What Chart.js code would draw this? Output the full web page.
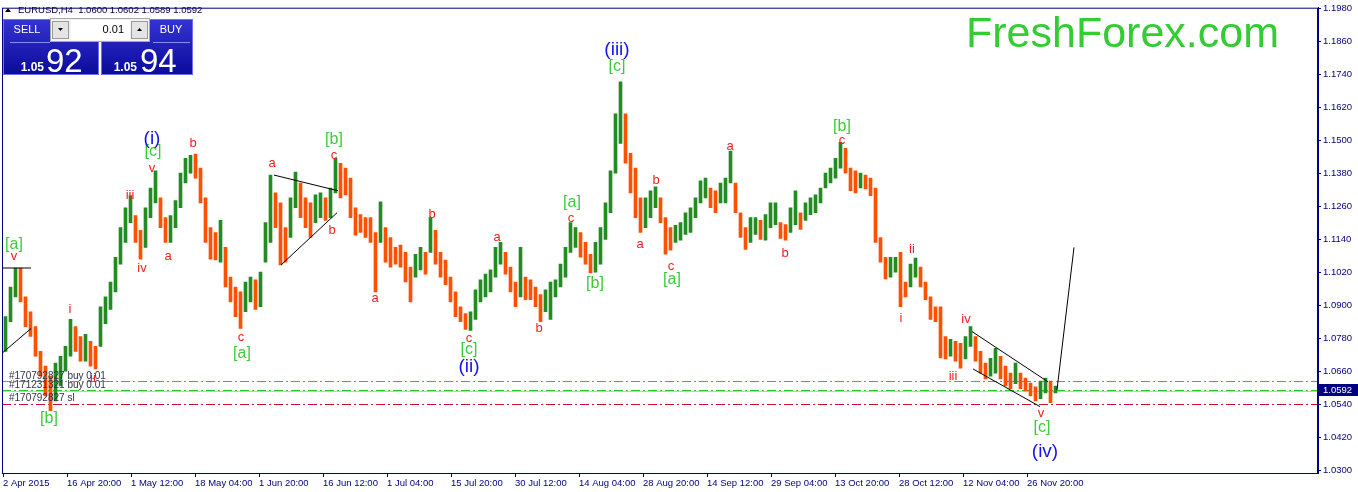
<!DOCTYPE html>
<html>
<head>
<meta charset="utf-8">
<script src="https://cdn.jsdelivr.net/npm/chart.js@4.4.1/dist/chart.umd.min.js"></script>
<style>
  html, body { margin: 0; padding: 0; background: #fff; overflow: hidden; }
  #wrap { width: 1358px; height: 492px; }
</style>
</head>
<body>
<div id="wrap"><canvas id="chart" width="1358" height="492"></canvas></div>
<script>
// EURUSD H4, 2 Apr - 3 Dec 2015, one slot = 5 H4 bars (high / low of the slot)
const highs = [
  1.0860, 1.0968, 1.1037, 1.1037, 1.0932, 1.0878, 1.0824, 1.0734, 1.0680, 1.0644,
  1.0691, 1.0716, 1.0752, 1.0850, 1.0824, 1.0788, 1.0796, 1.0770, 1.0752, 1.0896,
  1.0932, 1.0986, 1.1076, 1.1184, 1.1256, 1.1300, 1.1228, 1.1174, 1.1256, 1.1328,
  1.1390, 1.1292, 1.1220, 1.1228, 1.1282, 1.1382, 1.1436, 1.1447, 1.1451, 1.1400,
  1.1292, 1.1184, 1.1166, 1.1210, 1.1112, 1.1004, 1.0968, 1.0950, 1.0986, 1.1004,
  1.0994, 1.1022, 1.1202, 1.1375, 1.1310, 1.1274, 1.1184, 1.1292, 1.1386, 1.1346,
  1.1292, 1.1274, 1.1303, 1.1310, 1.1292, 1.1328, 1.1436, 1.1418, 1.1400, 1.1364,
  1.1256, 1.1231, 1.1220, 1.1220, 1.1166, 1.1278, 1.1184, 1.1148, 1.1112, 1.1120,
  1.1094, 1.1040, 1.1087, 1.1112, 1.1094, 1.1220, 1.1174, 1.1094, 1.1066, 1.1004,
  1.0950, 1.0896, 1.0871, 1.0878, 1.0958, 1.0994, 1.1015, 1.1030, 1.1112, 1.1130,
  1.1094, 1.1040, 1.0986, 1.1112, 1.1004, 1.0994, 1.0968, 1.0940, 1.0958, 1.0986,
  1.0994, 1.1051, 1.1112, 1.1202, 1.1184, 1.1166, 1.1130, 1.1087, 1.1130, 1.1184,
  1.1274, 1.1390, 1.1598, 1.1714, 1.1598, 1.1454, 1.1400, 1.1292, 1.1292, 1.1318,
  1.1332, 1.1292, 1.1220, 1.1184, 1.1192, 1.1202, 1.1238, 1.1256, 1.1292, 1.1354,
  1.1364, 1.1328, 1.1318, 1.1346, 1.1364, 1.1462, 1.1346, 1.1238, 1.1184, 1.1220,
  1.1220, 1.1210, 1.1231, 1.1274, 1.1274, 1.1202, 1.1195, 1.1256, 1.1318, 1.1238,
  1.1274, 1.1292, 1.1303, 1.1328, 1.1382, 1.1400, 1.1436, 1.1494, 1.1472, 1.1400,
  1.1390, 1.1382, 1.1375, 1.1364, 1.1328, 1.1148, 1.1076, 1.1076, 1.1076, 1.1094,
  1.0986, 1.1051, 1.1073, 1.1040, 1.0986, 1.0932, 1.0896, 1.0896, 1.0788, 1.0778,
  1.0770, 1.0763, 1.0788, 1.0824, 1.0788, 1.0734, 1.0691, 1.0709, 1.0745, 1.0716,
  1.0680, 1.0655, 1.0691, 1.0655, 1.0637, 1.0619, 1.0605, 1.0626, 1.0637, 1.0626,
  1.0608
];
const lows = [
  1.0734, 1.0842, 1.0932, 1.0914, 1.0824, 1.0788, 1.0716, 1.0644, 1.0572, 1.0518,
  1.0554, 1.0608, 1.0662, 1.0716, 1.0734, 1.0698, 1.0698, 1.0680, 1.0670, 1.0752,
  1.0835, 1.0886, 1.0950, 1.1051, 1.1130, 1.1202, 1.1130, 1.1069, 1.1112, 1.1220,
  1.1274, 1.1184, 1.1130, 1.1130, 1.1184, 1.1256, 1.1346, 1.1382, 1.1364, 1.1274,
  1.1130, 1.1069, 1.1066, 1.1058, 1.0968, 1.0914, 1.0860, 1.0817, 1.0878, 1.0914,
  1.0886, 1.0896, 1.1058, 1.1130, 1.1184, 1.1048, 1.1058, 1.1148, 1.1256, 1.1220,
  1.1184, 1.1148, 1.1202, 1.1220, 1.1210, 1.1220, 1.1310, 1.1292, 1.1303, 1.1220,
  1.1156, 1.1166, 1.1148, 1.1130, 1.0950, 1.1130, 1.1058, 1.1040, 1.1051, 1.1040,
  1.0986, 1.0914, 1.1004, 1.1030, 1.1015, 1.1094, 1.1051, 1.1004, 1.0976, 1.0914,
  1.0860, 1.0842, 1.0814, 1.0810, 1.0850, 1.0914, 1.0932, 1.0950, 1.1004, 1.1051,
  1.1015, 1.0950, 1.0896, 1.0932, 1.0922, 1.0922, 1.0896, 1.0842, 1.0878, 1.0850,
  1.0932, 1.0968, 1.1004, 1.1094, 1.1112, 1.1076, 1.1051, 1.1019, 1.1022, 1.1051,
  1.1141, 1.1238, 1.1382, 1.1490, 1.1418, 1.1310, 1.1220, 1.1166, 1.1184, 1.1220,
  1.1256, 1.1202, 1.1087, 1.1102, 1.1130, 1.1138, 1.1159, 1.1166, 1.1220, 1.1274,
  1.1292, 1.1256, 1.1238, 1.1274, 1.1274, 1.1346, 1.1238, 1.1148, 1.1105, 1.1130,
  1.1159, 1.1141, 1.1138, 1.1184, 1.1195, 1.1145, 1.1138, 1.1166, 1.1195, 1.1177,
  1.1210, 1.1231, 1.1238, 1.1274, 1.1328, 1.1346, 1.1364, 1.1400, 1.1382, 1.1318,
  1.1310, 1.1328, 1.1325, 1.1300, 1.1130, 1.1058, 1.0997, 1.1004, 1.1022, 1.0896,
  1.0932, 1.0968, 1.1004, 1.0968, 1.0922, 1.0850, 1.0842, 1.0710, 1.0706, 1.0716,
  1.0698, 1.0673, 1.0706, 1.0752, 1.0698, 1.0655, 1.0634, 1.0644, 1.0655, 1.0634,
  1.0608, 1.0598, 1.0616, 1.0598, 1.0590, 1.0572, 1.0554, 1.0562, 1.0583, 1.0547,
  1.0583
];

// time axis: bar number of each label
const tickBars = [1, 65, 129, 193, 257, 321, 385, 449, 513, 577, 641, 705, 769, 833, 897, 961, 1025];
const tickLabels = ['2 Apr 2015', '16 Apr 20:00', '1 May 12:00', '18 May 04:00', '1 Jun 20:00',
  '16 Jun 12:00', '1 Jul 04:00', '15 Jul 20:00', '30 Jul 12:00', '14 Aug 04:00', '28 Aug 20:00',
  '14 Sep 12:00', '29 Sep 04:00', '13 Oct 20:00', '28 Oct 12:00', '12 Nov 04:00', '26 Nov 20:00'];
const priceTicks = [1.0300, 1.0420, 1.0540, 1.0660, 1.0780, 1.0900, 1.1020, 1.1140,
  1.1260, 1.1380, 1.1500, 1.1620, 1.1740, 1.1860, 1.1980];

// wave counts: [text, bar, price]
const redLabels = [
  ['v', 12, 1.1080], ['i', 68, 1.0886], ['ii', 91, 1.0637], ['iii', 128, 1.1300], ['iv', 140, 1.1037],
  ['v', 150, 1.1400], ['a', 166, 1.1080], ['b', 191, 1.1490], ['c', 239, 1.0785], ['a', 270, 1.1418],
  ['c', 332, 1.1447], ['b', 330, 1.1174], ['a', 373, 1.0925], ['b', 430, 1.1231], ['c', 467, 1.0781],
  ['a', 495, 1.1148], ['b', 537, 1.0817], ['c', 569, 1.1217], ['a', 638, 1.1123], ['b', 654, 1.1357],
  ['c', 669, 1.1044], ['a', 728, 1.1480], ['b', 783, 1.1091], ['c', 840, 1.1501], ['i', 899, 1.0853],
  ['ii', 910, 1.1105], ['iii', 951, 1.0641], ['iv', 964, 1.0850], ['v', 1039, 1.0508]
];
const greenLabels = [
  ['[a]', 12, 1.1123], ['[b]', 47, 1.0490], ['[c]', 151, 1.1462], ['[a]', 240, 1.0727],
  ['[b]', 332, 1.1505], ['[c]', 467, 1.0742], ['[a]', 570, 1.1274], ['[b]', 593, 1.0979],
  ['[c]', 615, 1.1768], ['[a]', 670, 1.0994], ['[b]', 840, 1.1552], ['[c]', 1040, 1.0457]
];
const blueLabels = [['(i)', 150, 1.1508], ['(ii)', 467, 1.0677], ['(iii)', 615, 1.1832], ['(iv)', 1043, 1.0367]];

// trend lines: [bar1, price1, bar2, price2]
const trendLines = [
  [0, 1.1037, 29, 1.1037], [0, 1.0727, 29, 1.0817],
  [272, 1.1375, 336, 1.1318], [279, 1.1048, 335, 1.1238],
  [970, 1.0806, 1046, 1.0623], [971, 1.0670, 1038, 1.0533],
  [1055, 1.0594, 1072, 1.1112]
];
const buyLevels = [1.0626, 1.0594];
const stopLevel = 1.0543;
const bidPrice = 1.0592;
const orderTexts = [['#170792827 buy 0.01', 7, 1.0644], ['#171231321 buy 0.01', 7, 1.0612], ['#170792827 sl', 7, 1.0565]];

const SLOT = 5, FIRST_BAR = 1;
const UP = '#228b22', DOWN = '#ff5000', NAVY = '#000080';
const FONT = '"Liberation Sans", Arial, sans-serif';

const bars = highs.map((h, i) => ({ x: FIRST_BAR + SLOT * i + SLOT / 2, y: [lows[i], h] }));
const barColors = highs.map((h, i) => {
  if (i === 0) return UP;
  const mid = (h + lows[i]) / 2, prev = (highs[i - 1] + lows[i - 1]) / 2;
  return mid >= prev ? UP : DOWN;
});

function drawPanel(ctx) {
  ctx.save();
  ctx.fillStyle = '#000';
  ctx.beginPath(); ctx.moveTo(5, 12); ctx.lineTo(11, 12); ctx.lineTo(8, 8); ctx.closePath(); ctx.fill();
  ctx.font = '9.5px ' + FONT; ctx.textBaseline = 'middle'; ctx.textAlign = 'left';
  ctx.fillStyle = '#000040';
  ctx.fillText('EURUSD,H4  1.0600 1.0602 1.0589 1.0592', 18, 10);

  const g = ctx.createLinearGradient(0, 19, 0, 75);
  g.addColorStop(0, '#3434d4'); g.addColorStop(1, '#0a0a9a');
  [[3, 19, 96, 56], [101, 19, 92, 56]].forEach(r => {
    ctx.fillStyle = g; ctx.fillRect(r[0], r[1], r[2], r[3]);
    ctx.strokeStyle = '#7070f0'; ctx.lineWidth = 1;
    ctx.strokeRect(r[0] + 0.5, r[1] + 0.5, r[2] - 1, r[3] - 1);
  });
  // lot box
  ctx.fillStyle = '#f2f2f2'; ctx.fillRect(50, 18, 100, 24);
  ctx.strokeStyle = '#a8a8a8'; ctx.strokeRect(50.5, 18.5, 99, 23);
  ctx.fillStyle = '#fff'; ctx.fillRect(71, 20, 59, 20);
  [[52, 21, 17, 18], [131, 21, 17, 18]].forEach(r => {
    ctx.fillStyle = '#e4e4e4'; ctx.fillRect(r[0], r[1], r[2], r[3]);
    ctx.strokeStyle = '#9a9a9a'; ctx.strokeRect(r[0] + 0.5, r[1] + 0.5, r[2] - 1, r[3] - 1);
  });
  ctx.fillStyle = '#000';
  ctx.beginPath(); ctx.moveTo(58, 28); ctx.lineTo(63, 28); ctx.lineTo(60.5, 31); ctx.closePath(); ctx.fill();
  ctx.beginPath(); ctx.moveTo(137, 31); ctx.lineTo(142, 31); ctx.lineTo(139.5, 28); ctx.closePath(); ctx.fill();
  ctx.font = '11px ' + FONT; ctx.textAlign = 'right';
  ctx.fillText('0.01', 124, 30);

  ctx.fillStyle = '#fff'; ctx.textAlign = 'center';
  ctx.fillText('SELL', 27, 30);
  ctx.fillText('BUY', 171, 30);
  ctx.strokeStyle = '#8c8cf0';
  ctx.beginPath(); ctx.moveTo(10, 42.5); ctx.lineTo(50, 42.5); ctx.moveTo(153, 42.5); ctx.lineTo(190, 42.5); ctx.stroke();

  ctx.textBaseline = 'alphabetic';
  ctx.font = 'bold 12px ' + FONT; ctx.textAlign = 'right';
  ctx.fillText('1.05', 44, 71);
  ctx.fillText('1.05', 137, 71);
  ctx.font = '33px ' + FONT; ctx.textAlign = 'left';
  ctx.fillText('92', 46, 72);
  ctx.fillText('94', 140, 72);
  ctx.restore();
}

const overlay = {
  id: 'overlay',
  beforeDatasetsDraw(chart) {
    const { ctx, chartArea: a, scales: { y } } = chart;
    ctx.save();
    ctx.lineWidth = 1;
    ctx.setLineDash([9, 3, 2, 3]);
    ctx.strokeStyle = '#22cc22';
    buyLevels.forEach(p => {
      const py = Math.round(y.getPixelForValue(p)) + 0.5;
      ctx.beginPath(); ctx.moveTo(a.left, py); ctx.lineTo(a.right, py); ctx.stroke();
    });
    ctx.strokeStyle = '#cc1133';
    const sy = Math.round(y.getPixelForValue(stopLevel)) + 0.5;
    ctx.beginPath(); ctx.moveTo(a.left, sy); ctx.lineTo(a.right, sy); ctx.stroke();
    ctx.setLineDash([]);
    ctx.strokeStyle = '#c8c8c8';
    const by = Math.round(y.getPixelForValue(bidPrice - 0.0003)) + 0.5;
    ctx.beginPath(); ctx.moveTo(a.left, by); ctx.lineTo(a.right, by); ctx.stroke();
    ctx.restore();
  },
  afterDraw(chart) {
    const { ctx, chartArea: a, scales: { x, y } } = chart;
    ctx.save();
    // frame
    ctx.strokeStyle = NAVY; ctx.lineWidth = 1;
    ctx.strokeRect(a.left + 0.5, a.top + 0.5, a.right - a.left - 1, a.bottom - a.top);

    ctx.save();
    ctx.beginPath(); ctx.rect(a.left, a.top, a.right - a.left, a.bottom - a.top); ctx.clip();
    ctx.strokeStyle = '#000';
    trendLines.forEach(t => {
      ctx.beginPath();
      ctx.moveTo(x.getPixelForValue(t[0]), y.getPixelForValue(t[1]));
      ctx.lineTo(x.getPixelForValue(t[2]), y.getPixelForValue(t[3]));
      ctx.stroke();
    });
    ctx.restore();

    ctx.textAlign = 'center'; ctx.textBaseline = 'middle';
    const put = (list, font, color) => {
      ctx.font = font; ctx.fillStyle = color;
      list.forEach(l => ctx.fillText(l[0], x.getPixelForValue(l[1]), y.getPixelForValue(l[2])));
    };
    put(redLabels, '13px ' + FONT, '#f41c1c');
    put(greenLabels, '16px ' + FONT, '#3ccc3c');
    put(blueLabels, '19px ' + FONT, '#1414f0');

    ctx.textAlign = 'left';
    ctx.font = '10px ' + FONT; ctx.fillStyle = '#303048';
    orderTexts.forEach(o => ctx.fillText(o[0], x.getPixelForValue(o[1]), y.getPixelForValue(o[2])));

    // current price box on the axis
    const py = Math.round(y.getPixelForValue(bidPrice));
    ctx.fillStyle = NAVY; ctx.fillRect(a.right + 1, py - 6, 40, 12);
    ctx.fillStyle = '#fff'; ctx.font = '9.5px ' + FONT;
    ctx.fillText(bidPrice.toFixed(4), a.right + 5, py);

    ctx.font = '43px ' + FONT; ctx.fillStyle = '#33cc33'; ctx.textBaseline = 'alphabetic';
    ctx.fillText('FreshForex.com', 966, 47);
    ctx.restore();
    drawPanel(ctx);
  }
};

new Chart(document.getElementById('chart'), {
  type: 'bar',
  data: {
    datasets: [{
      data: bars,
      backgroundColor: barColors,
      borderWidth: 0,
      barThickness: 3
    }]
  },
  options: {
    responsive: false,
    animation: false,
    layout: { padding: { left: 2, top: 3, right: 0, bottom: 0 } },
    plugins: { legend: { display: false }, tooltip: { enabled: false } },
    scales: {
      x: {
        type: 'linear',
        min: 0,
        max: 1316,
        offset: false,
        afterBuildTicks: s => { s.ticks = tickBars.map(v => ({ value: v })); },
        afterFit: s => { s.height = 19; },
        grid: { offset: false, drawOnChartArea: false, drawTicks: true, tickLength: 4, color: NAVY },
        border: { color: NAVY },
        ticks: {
          autoSkip: false, maxRotation: 0, align: 'start', padding: 1, color: NAVY,
          font: { family: FONT, size: 9.5 },
          callback: (v, i) => tickLabels[i]
        }
      },
      y: {
        position: 'right',
        min: 1.02916,
        max: 1.19836,
        afterBuildTicks: s => { s.ticks = priceTicks.map(v => ({ value: v })); },
        afterFit: s => { s.width = 40; },
        grid: { drawOnChartArea: false, drawTicks: true, tickLength: 3, color: NAVY },
        border: { color: NAVY },
        ticks: {
          autoSkip: false, padding: 2, color: NAVY,
          font: { family: FONT, size: 9.5 },
          callback: v => v.toFixed(4)
        }
      }
    }
  },
  plugins: [overlay]
});
</script>
</body>
</html>
